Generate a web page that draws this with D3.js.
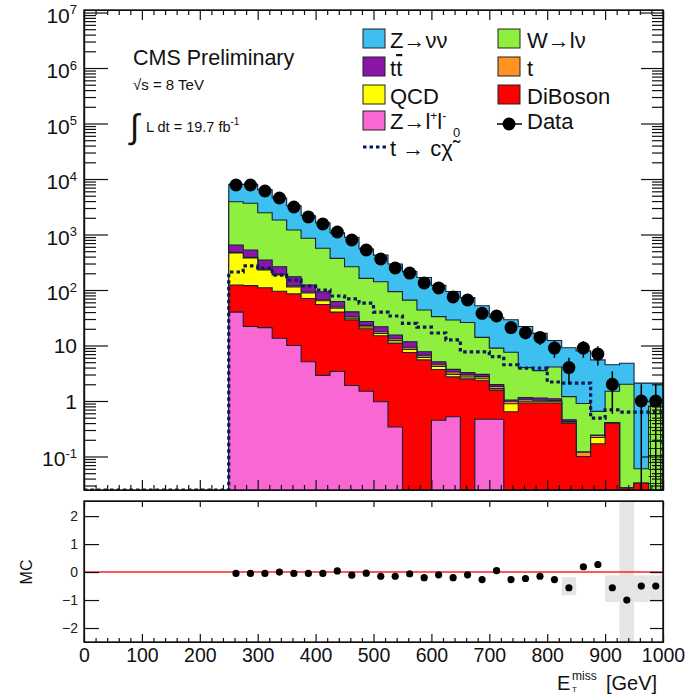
<!DOCTYPE html>
<html lang="en">
<head>
<meta charset="UTF-8">
<title>MET stack</title>
<script src="https://cdn.jsdelivr.net/npm/d3@7"></script>
<style>
    body{margin:0;background:#fff;}
    svg{display:block;font-family:"Liberation Sans",Arial,Helvetica,sans-serif;}
    .axis path,.axis line{stroke:#111;stroke-width:1.2;}
</style>
</head>
<body>
<div id="draw"></div>
<script>
// bin edges in GeV
var binEdges = [250,275,300,325,350,375,400,425,450,475,500,525,550,575,600,625,650,675,700,725,750,775,800,825,850,875,900,925,950,975,1000];

// backgrounds, bottom of the stack first
var zll     = [40,22,21,13.5,10,5.1,2.9,3.4,1.9,1.5,0.97,0.34,0,0,0.45,0.52,0,0.47,0.47,0,0,0,0,0,0,0,0,0,0,0];
var diboson = [83,98,89,81.5,75,65,52,36.6,27,18.5,14,10.7,7.5,5.5,3.25,2.2,2.5,1.9,1.1,0.64,0.92,0.92,0.92,0.4,0.1,0.17,0.4,0.027,0.033,0];
var qcd     = [341,257,120,91,29,18,9,7,2,1.5,1.5,1.2,1,0.6,0.5,0.3,0.2,0.2,0.1,0.25,0.05,0.05,0.05,0,0,0.05,0,0,0,0];
var singleT = [12,10,8,6,5,4,3,2.5,2,1.5,1.2,1,0.8,0.6,0.4,0.3,0.25,0.2,0.15,0.1,0.08,0.06,0.05,0.03,0.02,0.02,0.01,0,0,0];
var ttbar   = [170,139,109,70,54,31,26,12.5,7.5,4,4.1,2.2,2.4,1.0,0.5,0.4,0.3,0.25,0.15,0.05,0.1,0.1,0.08,0.03,0,0,0,0,0,0];
var wlnu    = [3254,3124,2123,1563,1032,731,471,310,222,135,119,78,54,36,28,25,22.7,11,7,6.5,2.85,2.4,3.0,0.74,0.78,0.41,1.09,1.97,0.027,0.8];
var znunu   = [4100,4350,3930,2725,2095,1326,1066,698,631,386,285,200,149,124,88,65,47,38,23,21.5,18,13,8.2,7.9,7.1,4.85,3.0,2.8,2.04,1.3];

var signal  = [211,271,249,186,151,118,100,78,69,58,40,34,25,21.5,16.8,12.6,7.7,7.7,6.3,4.5,3.9,3.9,2.2,2.1,2.1,0.49,0.69,0.63,0.63,0.63];
var data    = [7800,7800,6080,4550,3130,2070,1545,1110,796,526,362,249,202,134,109,75,66,38,34,21,17,14,9,4,9,7,2,0,1,1];
var ratio   = [-0.05,-0.05,-0.05,0,-0.05,-0.05,-0.05,0.04,-0.11,-0.04,-0.15,-0.15,-0.06,-0.2,-0.1,-0.2,-0.1,-0.27,0.05,-0.27,-0.23,-0.15,-0.27,-0.56,0.19,0.27,-0.56,-1.0,-0.5,-0.5];

// grey band in the ratio pad (bin index, low, high)
var bandBins = [23,26,27,28,29];
var bandLo   = [-0.83,-1.07,-2.5,-1.07,-1.07];
var bandHi   = [-0.18,-0.12,2.54,-0.12,-0.12];
// hatched MC uncertainty in the main pad
var mcErrBins = [29];
var mcErrHi   = [0.9];

var keys   = ["zll","diboson","qcd","singleT","ttbar","wlnu","znunu"];
var colors = {zll:"#f867d2",diboson:"#ff0000",qcd:"#ffff00",singleT:"#ff9222",ttbar:"#8a16a8",wlnu:"#8eef3e",znunu:"#3dbff0"};
var yTicks = [0.1,1,10,100,1e3,1e4,1e5,1e6,1e7];
var xTicks = [0,100,200,300,400,500,600,700,800,900,1000];
var rTicks = [-2,-1,0,1,2];

var w = 691, h = 695;
var x  = d3.scaleLinear().domain([0,1000]).range([84,663]);
var yFloor = 0.0249;
var y  = d3.scaleLog().domain([yFloor,1.11e7]).range([490,10]).clamp(true);
var yr = d3.scaleLinear().domain([-2.5,2.54]).range([642,501]);

var svg = d3.select("#draw").append("svg").attr("width",w).attr("height",h);
var defs = svg.append("defs");
defs.append("clipPath").attr("id","clipTop").append("rect")
    .attr("x",84).attr("y",10).attr("width",579).attr("height",480);
defs.append("clipPath").attr("id","clipRatio").append("rect")
    .attr("x",84).attr("y",501).attr("width",579).attr("height",141);
var pat = defs.append("pattern").attr("id","grid").attr("patternUnits","userSpaceOnUse")
    .attr("width",5).attr("height",7);
pat.append("path").attr("d","M0,0.5H5M0.5,0V7").attr("stroke","#111").attr("stroke-width",0.9);

function yv(v){ return y(Math.max(v,yFloor)); }
function stepPath(tops, from){
    var pts = [[x(from), y(yFloor)]];
    if(from < binEdges[0]) pts.push([x(binEdges[0]), y(yFloor)]);
    tops.forEach(function(t,i){
        pts.push([x(binEdges[i]), yv(t)]);
        pts.push([x(binEdges[i+1]), yv(t)]);
    });
    pts.push([x(1000), y(yFloor)]);
    return d3.line()(pts);
}

// ---------- main pad ----------
var rows = data.map(function(d,i){
    return {zll:zll[i],diboson:diboson[i],qcd:qcd[i],singleT:singleT[i],ttbar:ttbar[i],wlnu:wlnu[i],znunu:znunu[i]};
});
var series = d3.stack().keys(keys)(rows);

var mainG = svg.append("g").attr("clip-path","url(#clipTop)");
series.slice().reverse().forEach(function(s){
    mainG.append("path")
        .attr("d", stepPath(s.map(function(p){return p[1];}), binEdges[0]))
        .attr("fill", colors[s.key])
        .attr("stroke","#15203a")
        .attr("stroke-width",1.1);
});

// hatched MC error
mainG.selectAll("rect.mcerr").data(mcErrBins).enter().append("rect")
    .attr("class","mcerr")
    .attr("x",function(b){return x(binEdges[b]);})
    .attr("width",function(b){return x(binEdges[b+1])-x(binEdges[b]);})
    .attr("y",function(b,i){return y(mcErrHi[i]);})
    .attr("height",function(b,i){return y(yFloor)-y(mcErrHi[i]);})
    .attr("fill","url(#grid)");

// signal, dotted, including empty region below 250 GeV
mainG.append("path")
    .attr("d", stepPath(signal, 0))
    .attr("fill","none")
    .attr("stroke","#0c1858")
    .attr("stroke-width",3.2)
    .attr("stroke-dasharray","3.5,3");

// data points
var dpts = data.map(function(d,i){return {v:d, c:(binEdges[i]+binEdges[i+1])/2};}).filter(function(p){return p.v>0;});
mainG.selectAll("line.err").data(dpts).enter().append("line")
    .attr("class","err")
    .attr("x1",function(p){return x(p.c);}).attr("x2",function(p){return x(p.c);})
    .attr("y1",function(p){return yv(p.v+Math.sqrt(p.v));})
    .attr("y2",function(p){return yv(p.v-Math.sqrt(p.v));})
    .attr("stroke","#000").attr("stroke-width",1.5);
mainG.selectAll("circle.dat").data(dpts).enter().append("circle")
    .attr("class","dat")
    .attr("cx",function(p){return x(p.c);})
    .attr("cy",function(p){return y(p.v);})
    .attr("r",6.5).attr("fill","#000");

// axes of main pad
var minorY = [];
for(var k=-2;k<7;k++){ for(var m=2;m<10;m++){ var v=m*Math.pow(10,k); if(v>yFloor && v<1.11e7) minorY.push(v);} }
var minorX = [];
for(var t=0;t<=1000;t+=20){ if(t%100) minorX.push(t); }

function ax(g, axis, tx, ty){
    g.append("g").attr("class","axis").attr("transform","translate("+tx+","+ty+")").call(axis);
}
ax(svg, d3.axisRight(y).tickValues(yTicks).tickSize(24).tickSizeOuter(0).tickFormat(""), 84, 0);
ax(svg, d3.axisRight(y).tickValues(minorY).tickSize(12).tickSizeOuter(0).tickFormat(""), 84, 0);
ax(svg, d3.axisLeft(y).tickValues(yTicks).tickSize(22).tickSizeOuter(0).tickFormat(""), 663, 0);
ax(svg, d3.axisLeft(y).tickValues(minorY).tickSize(11).tickSizeOuter(0).tickFormat(""), 663, 0);
ax(svg, d3.axisBottom(x).tickValues(xTicks).tickSize(10).tickSizeOuter(0).tickFormat(""), 0, 10);
ax(svg, d3.axisBottom(x).tickValues(minorX).tickSize(5).tickSizeOuter(0).tickFormat(""), 0, 10);
ax(svg, d3.axisTop(x).tickValues(xTicks).tickSize(10).tickSizeOuter(0).tickFormat(""), 0, 490);
ax(svg, d3.axisTop(x).tickValues(minorX).tickSize(5).tickSizeOuter(0).tickFormat(""), 0, 490);
svg.append("rect").attr("x",84).attr("y",10).attr("width",579).attr("height",480)
    .attr("fill","none").attr("stroke","#111").attr("stroke-width",1.4);

// log labels
var ylab = svg.append("g").attr("font-size",21).attr("fill","#111").attr("text-anchor","end");
yTicks.forEach(function(v){
    var e = Math.round(Math.log10(v));
    var tx = ylab.append("text").attr("x",77).attr("y",y(v)+10);
    if(e===0){ tx.attr("y",y(v)+8).text("1"); }
    else if(e===1){ tx.attr("y",y(v)+8).text("10"); }
    else {
        tx.append("tspan").text("10");
        tx.append("tspan").attr("font-size",13).attr("dy",-8.5).text(e);
    }
});

// labels inside the pad
svg.append("text").attr("x",133).attr("y",65).attr("font-size",21.5).attr("fill","#111").text("CMS Preliminary");
svg.append("text").attr("x",133).attr("y",90).attr("font-size",15).attr("fill","#111").text("\u221As = 8 TeV");
svg.append("text").attr("x",130).attr("y",138).attr("font-size",34).attr("fill","#111").text("\u222B");
var lum = svg.append("text").attr("x",146).attr("y",132).attr("font-size",14.5).attr("fill","#111");
lum.append("tspan").text("L dt = 19.7 fb");
lum.append("tspan").attr("font-size",10).attr("dy",-7).text("-1");

// legend
var leg = svg.append("g").attr("font-size",22).attr("fill","#111");
var legItems = [
    {key:"znunu", col:0, row:0}, {key:"wlnu", col:1, row:0},
    {key:"ttbar", col:0, row:1}, {key:"singleT", col:1, row:1},
    {key:"qcd", col:0, row:2}, {key:"diboson", col:1, row:2},
    {key:"zll", col:0, row:3}
];
var colX = [363, 498], rowY = [29, 57, 85, 111];
legItems.forEach(function(it){
    leg.append("rect").attr("x",colX[it.col]).attr("y",rowY[it.row])
        .attr("width",22).attr("height",19)
        .attr("fill",colors[it.key]).attr("stroke","#222").attr("stroke-width",1);
});
var tx0 = 390, tx1 = 527;
leg.append("text").attr("x",tx0).attr("y",48).text("Z\u2192\u03BD\u03BD");
leg.append("text").attr("x",tx1).attr("y",48).text("W\u2192l\u03BD");
var tt = leg.append("text").attr("x",tx0).attr("y",76);
tt.append("tspan").text("t");
tt.append("tspan").attr("style","text-decoration:overline").text("t");
leg.append("text").attr("x",tx1).attr("y",76).text("t");
leg.append("text").attr("x",tx0).attr("y",104).text("QCD");
leg.append("text").attr("x",tx1).attr("y",104).text("DiBoson");
var zl = leg.append("text").attr("x",tx0).attr("y",129);
zl.append("tspan").text("Z\u2192l");
zl.append("tspan").attr("font-size",12).attr("dy",-9).text("+");
zl.append("tspan").attr("dy",9).text("l");
zl.append("tspan").attr("font-size",12).attr("dy",-9).text("-");
leg.append("line").attr("x1",497).attr("x2",522).attr("y1",124).attr("y2",124).attr("stroke","#000").attr("stroke-width",1.5);
leg.append("circle").attr("cx",509).attr("cy",124).attr("r",6.5).attr("fill","#000");
leg.append("text").attr("x",tx1).attr("y",129).text("Data");
leg.append("line").attr("x1",363).attr("x2",386).attr("y1",147).attr("y2",147)
    .attr("stroke","#0c1858").attr("stroke-width",3.2).attr("stroke-dasharray","3.5,3");
var sg = leg.append("text").attr("x",tx0).attr("y",156);
sg.append("tspan").text("t \u2192 c\u03C7\u0303");
sg.append("tspan").attr("font-size",13).attr("dy",-19).text("0");

// ---------- ratio pad ----------
var rp = svg.append("g").attr("clip-path","url(#clipRatio)");
rp.selectAll("rect.band").data(bandBins).enter().append("rect")
    .attr("class","band")
    .attr("x",function(b){return x(binEdges[b]);})
    .attr("width",function(b){return x(binEdges[b+1])-x(binEdges[b]);})
    .attr("y",function(b,i){return yr(bandHi[i]);})
    .attr("height",function(b,i){return yr(bandLo[i])-yr(bandHi[i]);})
    .attr("fill","#cfcfcf").attr("fill-opacity",0.55);
rp.append("line").attr("x1",x(0)).attr("x2",x(1000)).attr("y1",yr(0)).attr("y2",yr(0))
    .attr("stroke","#ff2020").attr("stroke-width",1.5);
rp.selectAll("circle.rat").data(ratio).enter().append("circle")
    .attr("class","rat")
    .attr("cx",function(r,i){return x((binEdges[i]+binEdges[i+1])/2);})
    .attr("cy",function(r){return yr(r);})
    .attr("r",3.6).attr("fill","#000");

ax(svg, d3.axisRight(yr).tickValues(rTicks).tickSize(15).tickSizeOuter(0).tickFormat(""), 84, 0);
ax(svg, d3.axisLeft(yr).tickValues(rTicks).tickSize(13).tickSizeOuter(0).tickFormat(""), 663, 0);
ax(svg, d3.axisTop(x).tickValues(xTicks).tickSize(8).tickSizeOuter(0).tickFormat(""), 0, 642);
ax(svg, d3.axisTop(x).tickValues(minorX).tickSize(4).tickSizeOuter(0).tickFormat(""), 0, 642);
ax(svg, d3.axisBottom(x).tickValues(xTicks).tickSize(6).tickSizeOuter(0).tickFormat(""), 0, 501);
svg.append("rect").attr("x",84).attr("y",501).attr("width",579).attr("height",141)
    .attr("fill","none").attr("stroke","#111").attr("stroke-width",1.4);

var rl = svg.append("g").attr("class","rlab").attr("transform","translate(84,0)")
    .call(d3.axisLeft(yr).tickValues(rTicks).tickSize(0).tickPadding(6).tickFormat(d3.format("d")));
rl.select(".domain").remove();
rl.selectAll("text").attr("font-size",14).attr("fill","#222").attr("font-family","Liberation Sans,Arial,sans-serif");

var xl = svg.append("g").attr("transform","translate(0,642)")
    .call(d3.axisBottom(x).tickValues(xTicks).tickSize(0).tickPadding(6).tickFormat(d3.format("d")));
xl.select(".domain").remove();
xl.selectAll("text").attr("font-size",19.5).attr("fill","#111").attr("font-family","Liberation Sans,Arial,sans-serif");

svg.append("text").attr("transform","translate(32,572) rotate(-90)")
    .attr("text-anchor","middle").attr("font-size",16).attr("fill","#111").text("MC");

var xt = svg.append("text").attr("font-size",20).attr("fill","#111");
xt.append("tspan").attr("x",557).attr("y",690).text("E");
xt.append("tspan").attr("x",572).attr("y",680).attr("font-size",12).text("miss");
xt.append("tspan").attr("x",572).attr("y",692).attr("font-size",8).text("T");
xt.append("tspan").attr("x",606).attr("y",690).text("[GeV]");
</script>
</body>
</html>
